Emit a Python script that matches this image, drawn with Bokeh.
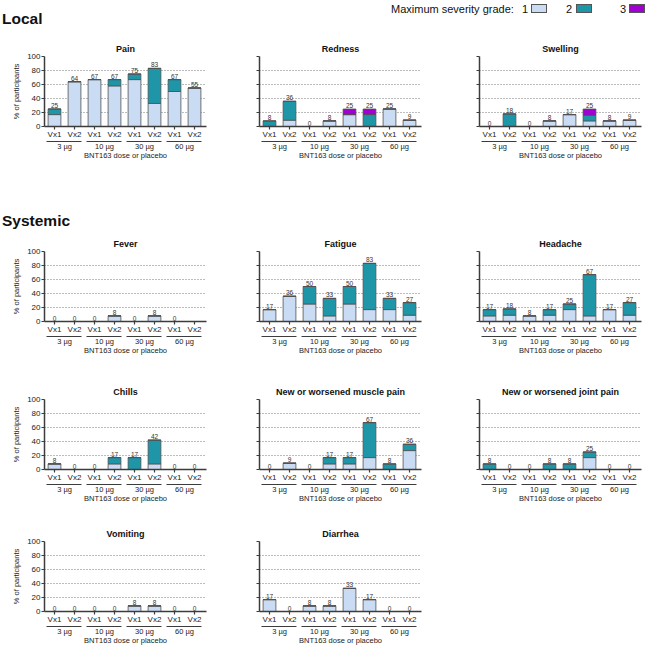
from bokeh.plotting import figure
from bokeh.models import LinearAxis, FixedTicker, Range1d, Div, ColumnDataSource
from bokeh.layouts import column, row
from bokeh.core.properties import value
from bokeh.embed import file_html
from bokeh.resources import INLINE

# ---------------- data ----------------
doses = ["3 µg", "10 µg", "30 µg", "60 µg"]
vaccinations = ["Vx1", "Vx2"]
grade_names = ["1", "2", "3"]
grade_colors = ["#cadcf4", "#1e96a8", "#a000d2"]

pain_g1 = [17, 64, 67, 58, 67, 33, 50, 55]
pain_g2 = [8, 0, 0, 9, 8, 50, 17, 0]
pain_g3 = [0, 0, 0, 0, 0, 0, 0, 0]
pain_labels = ["25", "64", "67", "67", "75", "83", "67", "55"]

redness_g1 = [0, 9, 0, 8, 17, 0, 25, 9]
redness_g2 = [8, 27, 0, 0, 0, 17, 0, 0]
redness_g3 = [0, 0, 0, 0, 8, 8, 0, 0]
redness_labels = ["8", "36", "0", "8", "25", "25", "25", "9"]

swelling_g1 = [0, 0, 0, 8, 17, 8, 8, 9]
swelling_g2 = [0, 18, 0, 0, 0, 8, 0, 0]
swelling_g3 = [0, 0, 0, 0, 0, 9, 0, 0]
swelling_labels = ["0", "18", "0", "8", "17", "25", "8", "9"]

fever_g1 = [0, 0, 0, 8, 0, 8, 0, 0]
fever_g2 = [0, 0, 0, 0, 0, 0, 0, 0]
fever_g3 = [0, 0, 0, 0, 0, 0, 0, 0]
fever_labels = ["0", "0", "0", "8", "0", "8", "0", ""]

fatigue_g1 = [17, 36, 25, 8, 25, 17, 17, 9]
fatigue_g2 = [0, 0, 25, 25, 25, 66, 16, 18]
fatigue_g3 = [0, 0, 0, 0, 0, 0, 0, 0]
fatigue_labels = ["17", "36", "50", "33", "50", "83", "33", "27"]

headache_g1 = [8, 9, 8, 9, 17, 8, 17, 9]
headache_g2 = [9, 9, 0, 8, 8, 59, 0, 18]
headache_g3 = [0, 0, 0, 0, 0, 0, 0, 0]
headache_labels = ["17", "18", "8", "17", "25", "67", "17", "27"]

chills_g1 = [8, 0, 0, 8, 0, 8, 0, 0]
chills_g2 = [0, 0, 0, 9, 17, 34, 0, 0]
chills_g3 = [0, 0, 0, 0, 0, 0, 0, 0]
chills_labels = ["8", "0", "0", "17", "17", "42", "0", "0"]

muscle_g1 = [0, 9, 0, 8, 8, 17, 0, 27]
muscle_g2 = [0, 0, 0, 9, 9, 50, 8, 9]
muscle_g3 = [0, 0, 0, 0, 0, 0, 0, 0]
muscle_labels = ["0", "9", "0", "17", "17", "67", "8", "36"]

joint_g1 = [0, 0, 0, 0, 0, 17, 0, 0]
joint_g2 = [8, 0, 0, 8, 8, 8, 0, 0]
joint_g3 = [0, 0, 0, 0, 0, 0, 0, 0]
joint_labels = ["8", "0", "0", "8", "8", "25", "0", "0"]

vomiting_g1 = [0, 0, 0, 0, 8, 8, 0, 0]
vomiting_g2 = [0, 0, 0, 0, 0, 0, 0, 0]
vomiting_g3 = [0, 0, 0, 0, 0, 0, 0, 0]
vomiting_labels = ["0", "0", "0", "0", "8", "8", "0", "0"]

diarrhea_g1 = [17, 0, 8, 8, 33, 17, 0, 0]
diarrhea_g2 = [0, 0, 0, 0, 0, 0, 0, 0]
diarrhea_g3 = [0, 0, 0, 0, 0, 0, 0, 0]
diarrhea_labels = ["17", "0", "8", "8", "33", "17", "0", "0"]

y_ticks = [0, 20, 40, 60, 80, 100]
grid_ticks = [20, 40, 60, 80]

# ---------------- styling ----------------
FONT = "Liberation Sans"
AX = "#3c3c3c"
LEFTS = [44, 23, 23]
RIGHTS = [30, 35, 6]


def make_panel(title, g1, g2, g3, labels, col, top, bottom):
    tick_labels = [v for d in doses for v in vaccinations]
    xs = list(range(len(tick_labels)))
    totals = [a + b + c for a, b, c in zip(g1, g2, g3)]
    src = ColumnDataSource(dict(x=xs, g1=g1, g2=g2, g3=g3, total=totals, label=labels))

    p = figure(frame_width=162, frame_height=70,
               x_range=Range1d(-0.5, 7.6), y_range=Range1d(0, 100),
               output_backend="svg", toolbar_location=None, title=title,
               min_border_left=LEFTS[col], min_border_right=RIGHTS[col],
               min_border_top=top, min_border_bottom=bottom)
    p.outline_line_color = None
    p.background_fill_color = "white"
    p.border_fill_color = "white"

    p.title.text_font = FONT
    p.title.text_font_size = "9px"
    p.title.text_font_style = "bold"
    p.title.text_color = "#111"
    p.title.align = "center"
    p.title.standoff = 5

    p.vbar_stack(["g1", "g2", "g3"], x="x", width=0.64, source=src,
                 fill_color=grade_colors, line_color="#505050", line_width=0.8)
    p.text(x="x", y="total", text="label", source=src, text_align="center",
           text_baseline="bottom", y_offset=-1, text_font_size="6.5px",
           text_color="#333", text_font=value(FONT))

    p.xgrid.visible = False
    p.ygrid.ticker = FixedTicker(ticks=grid_ticks)
    p.ygrid.grid_line_color = "#555"
    p.ygrid.grid_line_dash = "1 2"
    p.ygrid.grid_line_width = 0.8

    ya = p.yaxis[0]
    ya.ticker = FixedTicker(ticks=y_ticks)
    ya.axis_line_color = AX
    ya.axis_line_width = 1.5
    ya.major_tick_line_color = AX
    ya.major_tick_line_width = 1.2
    ya.major_tick_out = 3
    ya.major_tick_in = 0
    ya.minor_tick_line_color = None
    ya.major_label_text_font = FONT
    ya.major_label_text_font_size = "8px"
    ya.major_label_text_color = "#222"
    ya.major_label_standoff = 1
    if col == 0:
        ya.axis_label = "% of participants"
        ya.axis_label_text_font = FONT
        ya.axis_label_text_font_size = "7.5px"
        ya.axis_label_text_font_style = "normal"
        ya.axis_label_text_color = "#222"
        ya.axis_label_standoff = 3
    else:
        ya.major_label_text_color = None

    xa = p.xaxis[0]
    xa.ticker = FixedTicker(ticks=xs)
    xa.major_label_overrides = {x: t for x, t in zip(xs, tick_labels)}
    xa.axis_line_color = AX
    xa.axis_line_width = 1.5
    xa.major_tick_line_color = AX
    xa.major_tick_line_width = 1.2
    xa.major_tick_out = 3
    xa.major_tick_in = 0
    xa.minor_tick_line_color = None
    xa.major_label_text_font = FONT
    xa.major_label_text_font_size = "8px"
    xa.major_label_text_color = "#222"
    xa.major_label_standoff = 0

    centers = [xs[2 * i] + 0.5 for i in range(len(doses))]
    ga = LinearAxis(ticker=FixedTicker(ticks=centers),
                    major_label_overrides={c: d for c, d in zip(centers, doses)},
                    axis_label="BNT163 dose or placebo")
    ga.axis_line_color = AX
    ga.axis_line_width = 1
    ga.axis_line_dash = "0 2 35 3"
    ga.major_tick_line_color = None
    ga.major_tick_out = 0
    ga.major_tick_in = 0
    ga.minor_tick_line_color = None
    ga.major_label_text_font = FONT
    ga.major_label_text_font_size = "7.5px"
    ga.major_label_text_color = "#222"
    ga.major_label_standoff = 0
    ga.axis_label_text_font = FONT
    ga.axis_label_text_font_size = "7.5px"
    ga.axis_label_text_font_style = "normal"
    ga.axis_label_text_color = "#222"
    ga.axis_label_standoff = -3
    p.add_layout(ga, "below")
    return p


def box(left, color):
    return (f'<span style="position:absolute;left:{left}px;top:4px;width:16px;height:9px;'
            f'background:{color};border:1px solid #555;"></span>')


TXT = 'position:absolute;top:2px;font-size:11px;'
legend_html = (
    f'<div style="position:relative;width:647px;height:30px;font-family:\'{FONT}\',Arial,sans-serif;color:#111;">'
    '<span style="position:absolute;left:2px;top:8px;font-size:15.5px;font-weight:bold;">Local</span>'
    f'<span style="{TXT}left:391px;">Maximum severity grade:</span>'
    f'<span style="{TXT}left:522px;">{grade_names[0]}</span>'
    + box(531, grade_colors[0]) +
    f'<span style="{TXT}left:566px;">{grade_names[1]}</span>'
    + box(576, grade_colors[1]) +
    f'<span style="{TXT}left:620px;">{grade_names[2]}</span>'
    + box(629, grade_colors[2]) +
    '</div>'
)
header = Div(text=legend_html, width=647, height=30, margin=0)
systemic = Div(text=(f'<div style="position:relative;width:647px;height:32px;font-family:\'{FONT}\',Arial,sans-serif;color:#111;">'
                     '<span style="position:absolute;left:2px;top:10px;font-size:15.5px;font-weight:bold;">Systemic</span></div>'),
               width=647, height=32, margin=0)

r1 = row(make_panel("Pain", pain_g1, pain_g2, pain_g3, pain_labels, 0, 26, 74),
         make_panel("Redness", redness_g1, redness_g2, redness_g3, redness_labels, 1, 26, 74),
         make_panel("Swelling", swelling_g1, swelling_g2, swelling_g3, swelling_labels, 2, 26, 74))
r2 = row(make_panel("Fever", fever_g1, fever_g2, fever_g3, fever_labels, 0, 19, 59),
         make_panel("Fatigue", fatigue_g1, fatigue_g2, fatigue_g3, fatigue_labels, 1, 19, 59),
         make_panel("Headache", headache_g1, headache_g2, headache_g3, headache_labels, 2, 19, 59))
r3 = row(make_panel("Chills", chills_g1, chills_g2, chills_g3, chills_labels, 0, 19, 55),
         make_panel("New or worsened muscle pain", muscle_g1, muscle_g2, muscle_g3, muscle_labels, 1, 19, 55),
         make_panel("New or worsened joint pain", joint_g1, joint_g2, joint_g3, joint_labels, 2, 19, 55))
r4 = row(make_panel("Vomiting", vomiting_g1, vomiting_g2, vomiting_g3, vomiting_labels, 0, 17, 32),
         make_panel("Diarrhea", diarrhea_g1, diarrhea_g2, diarrhea_g3, diarrhea_labels, 1, 17, 32))

layout = column(header, r1, systemic, r2, r3, r4)
open("out.html", "w").write(file_html(layout, INLINE))
